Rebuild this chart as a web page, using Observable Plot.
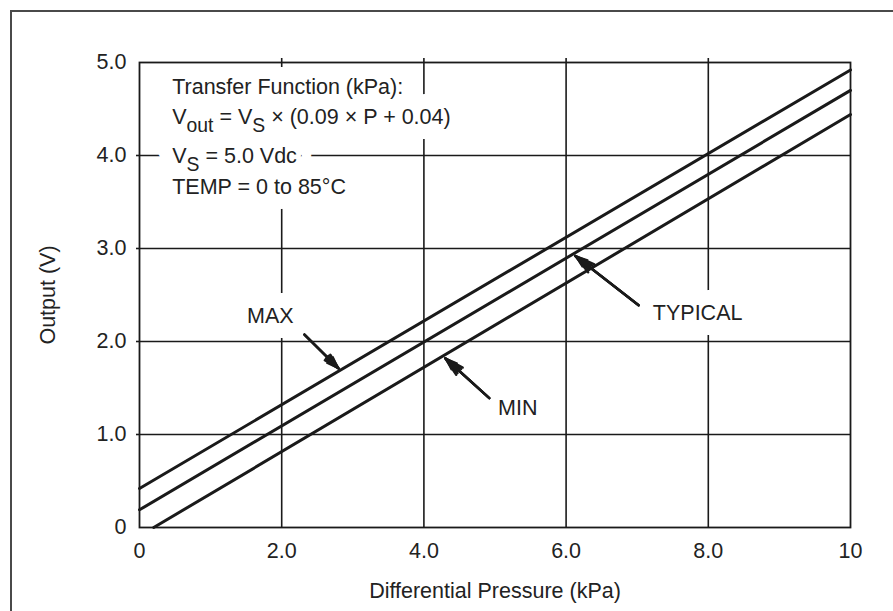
<!DOCTYPE html>
<html>
<head>
<meta charset="utf-8">
<script src="https://cdn.jsdelivr.net/npm/d3@7"></script>
<script src="https://cdn.jsdelivr.net/npm/@observablehq/plot@0.6"></script>
<style>
  html, body { margin: 0; padding: 0; background: #fff; overflow: hidden; width: 893px; height: 611px; }
  #frame { position: absolute; left: 10px; top: 10px; width: 1000px; height: 1000px; border: 2px solid #4a4a4a; }
  #chart { position: absolute; left: 0; top: 0; }
</style>
</head>
<body>
<div id="frame"></div>
<div id="chart"></div>
<script>
// ---- data ----
const xTicks = [0, 2, 4, 6, 8, 10];
const xTickLabels = ["0", "2.0", "4.0", "6.0", "8.0", "10"];
const yTicks = [0, 1, 2, 3, 4, 5];
const yTickLabels = ["0", "1.0", "2.0", "3.0", "4.0", "5.0"];
const gridX = [2, 4, 6, 8];
const gridY = [1, 2, 3, 4];

const seriesNames = ["MAX", "TYPICAL", "MIN"];
const seriesPressure = [[0, 10], [0, 10], [0.2, 10]];   // kPa
const seriesOutput = [[0.42, 4.92], [0.19, 4.70], [0.0, 4.44]]; // V

const noteRows = [
  "Transfer Function (kPa):",
  "V_{out} = V_{S} × (0.09 × P + 0.04)",
  "V_{S} = 5.0 Vdc",
  "TEMP = 0 to 85°C"
];
const noteRowX = [0.46, 0.46, 0.46, 0.46];
const noteRowY = [4.735, 4.413, 3.995, 3.66];

const labelText = ["MAX", "MIN", "TYPICAL"];
const labelX = [1.84, 5.32, 7.85];
const labelY = [2.27, 1.28, 2.30];
const arrowX1 = [2.32, 4.92, 7.02];
const arrowY1 = [2.075, 1.39, 2.39];
const arrowX2 = [2.80, 4.30, 6.13];
const arrowY2 = [1.71, 1.82, 2.92];

// ---- tables built from arrays ----
const lineData = seriesNames.flatMap((name, i) =>
  seriesPressure[i].map((p, j) => ({ series: name, p, v: seriesOutput[i][j] })));
const notes = noteRows.map((t, i) => ({ t, x: noteRowX[i], y: noteRowY[i] }));
const labels = labelText.map((t, i) => ({ t, x: labelX[i], y: labelY[i] }));
const arrows = labelText.map((t, i) => ({ x1: arrowX1[i], y1: arrowY1[i], x2: arrowX2[i], y2: arrowY2[i] }));
const xFmt = new Map(xTicks.map((t, i) => [t, xTickLabels[i]]));
const yFmt = new Map(yTicks.map((t, i) => [t, yTickLabels[i]]));

const ink = "#1a1a1a";
const textInk = "#222";
const haloWide = { fill: "white", stroke: "white", strokeWidth: 30, strokeLinejoin: "round", paintOrder: "stroke" };
const haloTight = { fill: "white", stroke: "white", strokeWidth: 10, strokeLinejoin: "round", paintOrder: "stroke" };
const arrowOpts = { x1: "x1", y1: "y1", x2: "x2", y2: "y2", stroke: ink };

const plot = Plot.plot({
  width: 893,
  height: 611,
  marginLeft: 139,
  marginRight: 43,
  marginTop: 62,
  marginBottom: 84,
  style: { fontFamily: "'Liberation Sans', Arial, sans-serif", fontSize: "21.5px", color: textInk, background: "transparent" },
  x: { domain: [0, 10], ticks: xTicks, tickFormat: d => xFmt.get(d), tickSize: 0, tickPadding: 15,
       label: "Differential Pressure (kPa)", labelAnchor: "center", labelOffset: 70, labelArrow: "none" },
  y: { domain: [0, 5], ticks: yTicks, tickFormat: d => yFmt.get(d), tickSize: 0, tickPadding: 13,
       label: "Output (V)", labelAnchor: "center", labelOffset: 100, labelArrow: "none" },
  marks: [
    Plot.ruleX(gridX, { stroke: ink, strokeWidth: 1.6 }),
    Plot.ruleY(gridY, { stroke: ink, strokeWidth: 1.6 }),
    // white halos (knock the grid out behind the text), then the text itself
    Plot.text(notes, { x: "x", y: "y", text: "t", textAnchor: "start", ...haloWide }),
    Plot.text(labels, { x: "x", y: "y", text: "t", ...haloWide }),
    Plot.text(notes, { x: "x", y: "y", text: "t", textAnchor: "start", ...haloTight }),
    Plot.text(labels, { x: "x", y: "y", text: "t", ...haloTight }),
    Plot.text(notes, { x: "x", y: "y", text: "t", textAnchor: "start", fill: textInk }),
    Plot.text(labels, { x: "x", y: "y", text: "t", fill: textInk }),
    // small outward ticks at the grid positions
    Plot.ruleX(gridX, { y1: 5, y2: 5, insetTop: -4, stroke: ink, strokeWidth: 1.6 }),
    Plot.ruleY(gridY, { x1: 0, x2: 0, insetLeft: -3, stroke: ink, strokeWidth: 1.6 }),
    Plot.frame({ stroke: ink, strokeWidth: 1.8 }),
    Plot.line(lineData, { x: "p", y: "v", z: "series", stroke: ink, strokeWidth: 3 }),
    Plot.arrow(arrows, { ...arrowOpts, strokeWidth: 1.5, headLength: 13, headAngle: 40 }),
    Plot.arrow(arrows, { ...arrowOpts, strokeWidth: 2.4, headLength: 13, headAngle: 28 }),
    Plot.arrow(arrows, { ...arrowOpts, strokeWidth: 2.4, headLength: 12, headAngle: 16 }),
    Plot.arrow(arrows, { ...arrowOpts, strokeWidth: 2.4, headLength: 11, headAngle: 6 })
  ]
});

// subscripts: V_{out}, V_{S}
plot.querySelectorAll("text").forEach(el => {
  const s = el.textContent;
  if (!s.includes("_{")) return;
  const parts = s.split(/_\{([^}]*)\}/);
  while (el.firstChild) el.removeChild(el.firstChild);
  const ns = "http://www.w3.org/2000/svg";
  parts.forEach((part, i) => {
    if (!part) return;
    const ts = document.createElementNS(ns, "tspan");
    ts.textContent = part;
    if (i % 2 === 1) {
      ts.setAttribute("dy", "8");
      ts.setAttribute("font-size", "0.9em");
    } else if (i > 0) {
      ts.setAttribute("dy", "-8");
    }
    el.appendChild(ts);
  });
});

document.getElementById("chart").appendChild(plot);
</script>
</body>
</html>
